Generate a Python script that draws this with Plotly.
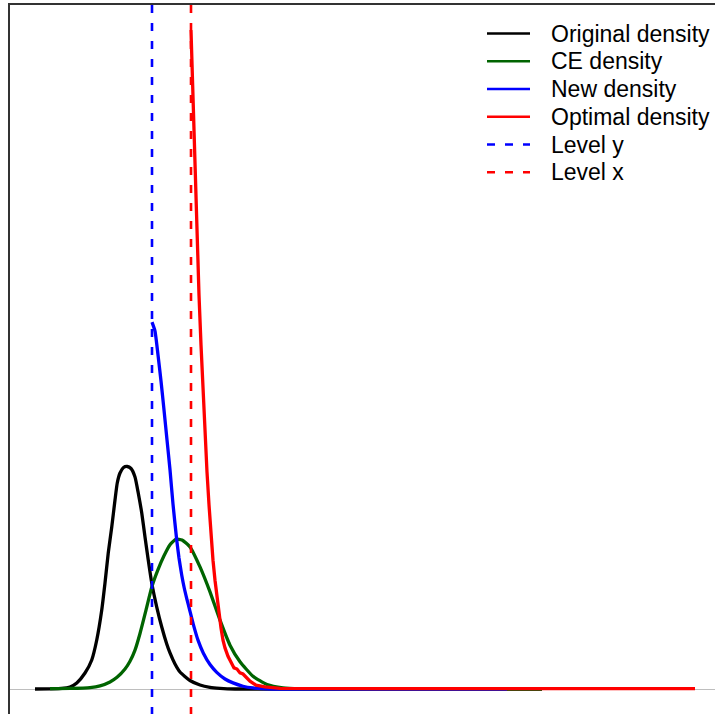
import plotly.graph_objects as go

# Density estimates (x in units of the original variable, y = density)
orig_x = [-3.68, -3.08, -2.60, -2.28, -2.01, -1.68, -1.41, -1.21, -1.01, -0.88, -0.75, -0.61,
          -0.48, -0.39, -0.28, -0.14, 0.01, 0.16, 0.32, 0.45, 0.59, 0.72, 0.85, 0.99, 1.19,
          1.39, 1.59, 1.72, 1.92, 2.12, 2.52, 2.92, 3.32, 3.72, 4.32, 4.92, 16.6]
orig_y = [0.0, 0.0004, 0.001, 0.0036, 0.0108, 0.0288, 0.0523, 0.0883, 0.1423, 0.191, 0.245,
          0.2919, 0.3405, 0.3712, 0.3892, 0.3991, 0.4009, 0.3973, 0.382, 0.3532, 0.3171,
          0.2739, 0.2324, 0.191, 0.1477, 0.1117, 0.0811, 0.0649, 0.045, 0.0306, 0.0153,
          0.0072, 0.0031, 0.0013, 0.0, 0.0, 0.0]

ce_x = [-3.08, -2.28, -1.48, -1.08, -0.68, -0.40, -0.08, 0.12, 0.32, 0.52, 0.76, 1.00, 1.24,
        1.48, 1.72, 1.96, 2.20, 2.52, 2.92, 3.32, 3.72, 4.12, 4.52, 5.04, 5.60, 6.24, 6.92,
        7.72, 16.6]
ce_y = [0.0005, 0.001, 0.0025, 0.0055, 0.0126, 0.021, 0.036, 0.05, 0.07, 0.1, 0.142, 0.185,
        0.215, 0.24, 0.26, 0.27, 0.2685, 0.256, 0.22, 0.175, 0.124, 0.079, 0.049, 0.023,
        0.008, 0.002, 0.0003, 0.0, 0.0]

new_x = [1.00, 1.12, 1.24, 1.36, 1.48, 1.60, 1.72, 1.84, 1.99, 2.08, 2.19, 2.29, 2.39, 2.52,
         2.65, 2.84, 3.05, 3.32, 3.59, 3.92, 4.24, 4.64, 5.04, 5.84, 15.2]
new_y = [0.661, 0.645, 0.602, 0.555, 0.503, 0.449, 0.395, 0.333, 0.268, 0.236, 0.205, 0.182,
         0.163, 0.140, 0.117, 0.088, 0.065, 0.044, 0.030, 0.018, 0.011, 0.005, 0.002, 0.0,
         0.0]

opt_x = [2.56, 2.64, 2.72, 2.80, 2.88, 2.96, 3.04, 3.12, 3.20, 3.28, 3.36, 3.44, 3.52, 3.60,
         3.68, 3.76, 3.84, 3.92, 4.04, 4.16, 4.28, 4.40, 4.52, 4.64, 4.76, 4.92, 5.16, 5.52,
         6.12, 6.92, 10.0, 15.0, 22.72]
opt_y = [1.187, 1.061, 0.935, 0.818, 0.71, 0.62, 0.535, 0.458, 0.391, 0.332, 0.277, 0.232,
         0.196, 0.164, 0.135, 0.11, 0.088, 0.074, 0.059, 0.047, 0.038, 0.036, 0.029, 0.027,
         0.022, 0.014, 0.007, 0.004, 0.001, 0.0008, 0.0006, 0.0005, 0.0005]

level_y = 1.0
level_x = 2.56

labels = ["Original density", "CE density", "New density", "Optimal density", "Level y", "Level x"]
colors = ["black", "#006400", "blue", "red", "blue", "red"]
dashes = ["solid", "solid", "solid", "solid", "8px,10px", "8px,10px"]

W, H = 715, 714
M_L, M_T = 10, 5

fig = go.Figure()
series = [(orig_x, orig_y, "spline"), (ce_x, ce_y, "spline"),
          (new_x, new_y, "spline"), (opt_x, opt_y, "linear")]
for (xs, ys, shape), name, col in zip(series, labels[:4], colors[:4]):
    fig.add_trace(go.Scatter(x=xs, y=ys, mode="lines", name=name, showlegend=False,
                             line=dict(color=col, width=3.3, shape=shape, smoothing=0.5)))

# Vertical threshold levels, dashes running from the top edge down
for lv, col in [(level_y, "blue"), (level_x, "red")]:
    fig.add_shape(type="line", xref="x", yref="paper", x0=lv, x1=lv, y0=1, y1=0,
                  line=dict(color=col, width=2.6, dash="8px,10px"))

# Legend block (pixel layout converted to paper coordinates)
def px_to_paper_x(px):
    return (px - M_L) / (W - M_L)

def py_to_paper_y(py):
    return (H - py) / (H - M_T)

row0, row_gap = 33.5, 27.75
for i, (lab, col, dsh) in enumerate(zip(labels, colors, dashes)):
    ry = row0 + i * row_gap
    fig.add_shape(type="line", xref="paper", yref="paper",
                  x0=px_to_paper_x(487), x1=px_to_paper_x(530),
                  y0=py_to_paper_y(ry), y1=py_to_paper_y(ry),
                  line=dict(color=col, width=2.6, dash=dsh))
    fig.add_annotation(xref="paper", yref="paper", x=px_to_paper_x(549), y=py_to_paper_y(ry),
                       text=lab, showarrow=False, xanchor="left", yanchor="middle",
                       font=dict(family="Liberation Sans, Arial, sans-serif", size=23,
                                 color="black"))

x_lo = (M_L - 127) / 25.0
x_hi = (W - 127) / 25.0
y_lo = (689 - H) / 555.0
y_hi = (689 - M_T) / 555.0

fig.update_layout(
    width=W, height=H,
    margin=dict(l=M_L, r=0, t=M_T, b=0, pad=0),
    paper_bgcolor="white", plot_bgcolor="white",
    showlegend=False,
    xaxis=dict(range=[x_lo, x_hi], side="top", showline=True, linecolor="#333333",
               linewidth=1.5, showgrid=False, zeroline=False, showticklabels=False,
               ticks=""),
    yaxis=dict(range=[y_lo, y_hi], showline=True, linecolor="#333333", linewidth=1.5,
               showgrid=False, zeroline=True, zerolinecolor="#bebebe", zerolinewidth=1.2,
               showticklabels=False, ticks=""),
)

fig.write_html("out.html")
